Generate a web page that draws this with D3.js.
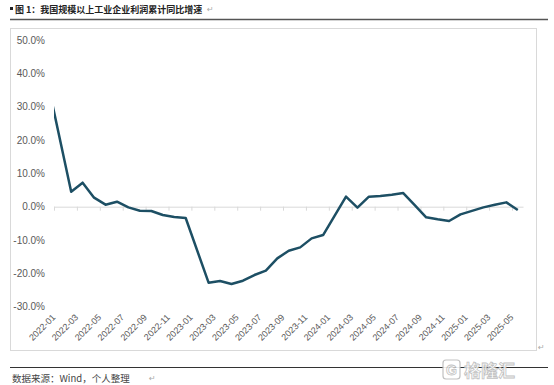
<!DOCTYPE html>
<html>
<head>
<meta charset="utf-8">
<script src="https://cdn.jsdelivr.net/npm/d3@7"></script>
<style>
  body { margin: 0; background: #fff; }
  svg { display: block; }
</style>
</head>
<body>
<div id="chart"></div>
<script>
// cumulative yoy growth of industrial profits, Jan data not published (Jan-Feb combined)
var months = ["2021-12",
    "2022-02", "2022-03", "2022-04", "2022-05", "2022-06", "2022-07", "2022-08", "2022-09", "2022-10", "2022-11", "2022-12",
    "2023-02", "2023-03", "2023-04", "2023-05", "2023-06", "2023-07", "2023-08", "2023-09", "2023-10", "2023-11", "2023-12",
    "2024-02", "2024-03", "2024-04", "2024-05", "2024-06", "2024-07", "2024-08", "2024-09", "2024-10", "2024-11", "2024-12",
    "2025-02", "2025-03", "2025-04", "2025-05"];
var growth = [36.5,
    4.5, 7.2, 2.7, 0.6, 1.5, -0.2, -1.2, -1.3, -2.5, -3.1, -3.4,
    -22.8, -22.3, -23.2, -22.2, -20.5, -19.2, -15.5, -13.2, -12.2, -9.5, -8.5,
    3.0, -0.3, 3.0, 3.2, 3.6, 4.1, 0.5, -3.2, -3.8, -4.3, -2.3,
    -0.2, 0.6, 1.3, -1.0];
var tickLabels = ["2022-01", "2022-03", "2022-05", "2022-07", "2022-09", "2022-11",
    "2023-01", "2023-03", "2023-05", "2023-07", "2023-09", "2023-11",
    "2024-01", "2024-03", "2024-05", "2024-07", "2024-09", "2024-11",
    "2025-01", "2025-03", "2025-05"];
var yTicks = [50, 40, 30, 20, 10, 0, -10, -20, -30];

var title = "图 1：我国规模以上工业企业利润累计同比增速";
var source = "数据来源：Wind，个人整理";

var W = 554, H = 385;

// month index from "yyyy-mm", 0 = 2022-01
function monthIndex(s) {
    var p = s.split("-");
    return (+p[0] - 2022) * 12 + (+p[1] - 1);
}

var svg = d3.select("#chart").append("svg")
    .attr("width", W)
    .attr("height", H);

// title + rule
svg.append("rect").attr("x", 10).attr("y", 7).attr("width", 3).attr("height", 3).attr("fill", "#222");
svg.append("text")
    .attr("x", 15).attr("y", 12.5)
    .attr("font-family", "'Noto Sans CJK SC', sans-serif")
    .attr("font-size", "9px")
    .attr("font-weight", "bold")
    .attr("fill", "#222")
    .text(title);
svg.append("text")
    .attr("x", 207).attr("y", 12)
    .attr("font-family", "'DejaVu Sans', sans-serif")
    .attr("font-size", "8px")
    .attr("fill", "#aaa")
    .text("↵");
svg.append("line")
    .attr("x1", 10).attr("x2", 548).attr("y1", 19.5).attr("y2", 19.5)
    .attr("stroke", "#555").attr("stroke-width", 1.5);

// chart frame
svg.append("rect")
    .attr("x", 10.5).attr("y", 28.5).attr("width", 526).attr("height", 322)
    .attr("fill", "none").attr("stroke", "#d9d9d9");
svg.append("text")
    .attr("x", 538).attr("y", 350)
    .attr("font-family", "'DejaVu Sans', sans-serif")
    .attr("font-size", "8px").attr("fill", "#aaa")
    .text("↵");

var x = d3.scaleLinear().domain([0, 41]).range([54, 523.5]);
var y = d3.scaleLinear().domain([-30, 50]).range([306.7, 40]);

// y labels
svg.append("g").selectAll("text")
    .data(yTicks).enter().append("text")
    .attr("x", 45)
    .attr("y", function (d) { return y(d); })
    .attr("dy", "0.35em")
    .attr("text-anchor", "end")
    .attr("font-family", "'Liberation Sans', Arial, sans-serif")
    .attr("font-size", "10px")
    .attr("fill", "#595959")
    .text(function (d) { return d.toFixed(1) + "%"; });

// zero axis with outside tick marks
var xAxis = d3.axisBottom(x)
    .tickValues(tickLabels.map(monthIndex))
    .tickSize(4)
    .tickSizeOuter(0)
    .tickFormat("");
var gx = svg.append("g")
    .attr("transform", "translate(0," + y(0) + ")")
    .call(xAxis);
gx.select(".domain").attr("stroke", "#d9d9d9").attr("d", "M" + x(0) + ",0.5H" + x(41));
gx.selectAll(".tick line").attr("stroke", "#d9d9d9");

// rotated month labels
svg.append("g").selectAll("text")
    .data(tickLabels).enter().append("text")
    .attr("transform", function (d) {
        return "translate(" + (x(monthIndex(d)) + 2) + ",318) rotate(-45)";
    })
    .attr("text-anchor", "end")
    .attr("font-family", "'Liberation Sans', Arial, sans-serif")
    .attr("font-size", "9px")
    .attr("fill", "#595959")
    .text(function (d) { return d; });

// clip the line to the plot area (Dec-2021 point lies left of the axis)
svg.append("clipPath").attr("id", "plot")
    .append("rect").attr("x", x(0)).attr("y", 30).attr("width", x(41) - x(0)).attr("height", 310);

var points = months.map(function (m, i) { return { m: m, v: growth[i] }; });
var line = d3.line()
    .x(function (d) { return x(monthIndex(d.m) + 0.5); })
    .y(function (d) { return y(d.v); });

svg.append("path")
    .datum(points)
    .attr("clip-path", "url(#plot)")
    .attr("d", line)
    .attr("fill", "none")
    .attr("stroke", "#1d4f64")
    .attr("stroke-width", 2.5)
    .attr("stroke-linejoin", "round");

// footer
svg.append("line")
    .attr("x1", 10).attr("x2", 548).attr("y1", 367.5).attr("y2", 367.5)
    .attr("stroke", "#333").attr("stroke-width", 1);
svg.append("text")
    .attr("x", 12).attr("y", 381.5)
    .attr("font-family", "'Noto Sans CJK SC', sans-serif")
    .attr("font-size", "9.5px")
    .attr("fill", "#444")
    .text(source);
svg.append("text")
    .attr("x", 149).attr("y", 381)
    .attr("font-family", "'DejaVu Sans', sans-serif")
    .attr("font-size", "8px").attr("fill", "#aaa")
    .text("↵");

// watermark
var wm = svg.append("g").attr("opacity", 0.9);
wm.append("rect")
    .attr("x", 443).attr("y", 360).attr("width", 17).attr("height", 19).attr("rx", 3)
    .attr("fill", "#fff").attr("stroke", "#bbb").attr("stroke-width", 1.2);
wm.append("text")
    .attr("x", 451.5).attr("y", 375)
    .attr("text-anchor", "middle")
    .attr("font-family", "'Liberation Sans', Arial, sans-serif")
    .attr("font-size", "14px").attr("font-weight", "bold")
    .attr("fill", "#fff").attr("stroke", "#bbb").attr("stroke-width", 0.8)
    .text("G");
wm.append("text")
    .attr("x", 464).attr("y", 377)
    .attr("font-family", "'Noto Sans CJK SC', sans-serif")
    .attr("font-size", "17px").attr("font-weight", "bold")
    .attr("fill", "#fff").attr("stroke", "#bbb").attr("stroke-width", 0.8)
    .text("格隆汇");
</script>
</body>
</html>
